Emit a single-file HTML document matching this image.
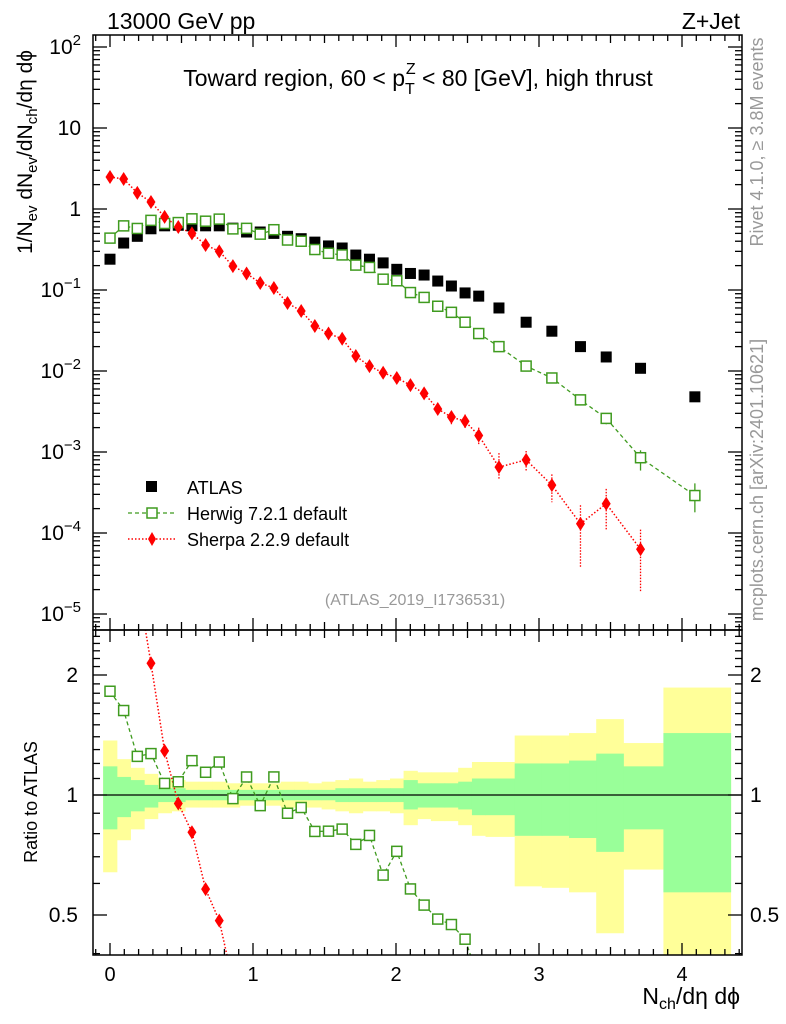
<!DOCTYPE html>
<html style="margin:0;width:786px;height:1024px;overflow:hidden;"><head><meta charset="utf-8"><style>
body{margin:0;background:#fff;overflow:hidden;width:786px;height:1024px;}
svg{display:block;font-family:"Liberation Sans",sans-serif;}
</style></head><body>
<svg id="c" width="786" height="1024" viewBox="0 0 786 1024">
<defs>
<clipPath id="clipMain"><rect x="93" y="35" width="649" height="595"/></clipPath>
<clipPath id="clipRatio"><rect x="93" y="630" width="649" height="325"/></clipPath>
</defs>
<g id="bands" clip-path="url(#clipRatio)"></g>
<g id="marks"></g>
<rect x="93" y="35" width="649" height="595" fill="none" stroke="#000" stroke-width="1.5"/>
<rect x="93" y="630" width="649" height="325" fill="none" stroke="#000" stroke-width="1.5"/>
<g id="ticks"></g>
<text x="107" y="29" font-size="23">13000 GeV pp</text>
<text x="740" y="29" font-size="23" text-anchor="end">Z+Jet</text>
<text x="418" y="86" font-size="23" text-anchor="middle">Toward region, 60 &lt; p<tspan font-size="16" dy="8">T</tspan><tspan font-size="16" dx="-9" dy="-20">Z</tspan><tspan dy="12"> &lt; 80 [GeV], high thrust</tspan></text>
<text x="415" y="605" font-size="16" fill="#999" text-anchor="middle">(ATLAS_2019_I1736531)</text>
<text transform="translate(763,142) rotate(-90)" font-size="18" fill="#999" text-anchor="middle">Rivet 4.1.0, ≥ 3.8M events</text>
<text transform="translate(763,480) rotate(-90)" font-size="18" fill="#999" text-anchor="middle">mcplots.cern.ch [arXiv:2401.10621]</text>
<text transform="translate(32,152) rotate(-90)" font-size="21" text-anchor="middle">1/N<tspan font-size="15" dy="5">ev</tspan><tspan dy="-5"> dN</tspan><tspan font-size="15" dy="5">ev</tspan><tspan dy="-5">/dN</tspan><tspan font-size="15" dy="5">ch</tspan><tspan dy="-5">/dη dϕ</tspan></text>
<text transform="translate(37,802) rotate(-90)" font-size="18" text-anchor="middle">Ratio to ATLAS</text>
<text x="740" y="1004" font-size="23" text-anchor="end">N<tspan font-size="16" dy="5">ch</tspan><tspan dy="-5">/dη dϕ</tspan></text>
<g>
<rect x="146" y="481" width="11" height="11" fill="#000"/>
<text x="187" y="494" font-size="18">ATLAS</text>
<line x1="128" y1="513" x2="176" y2="513" stroke="#3f9b1f" stroke-width="1.3" stroke-dasharray="4,3"/>
<rect x="147" y="508" width="10" height="10" fill="#fff" stroke="#3f9b1f" stroke-width="1.5"/>
<text x="187" y="520" font-size="18">Herwig 7.2.1 default</text>
<line x1="128" y1="539" x2="176" y2="539" stroke="#f00" stroke-width="1.5" stroke-dasharray="1.5,2"/>
<polygon points="152,532 156,539 152,546 148,539" fill="#f00"/>
<text x="187" y="546" font-size="18">Sherpa 2.2.9 default</text>
</g>
</svg>
<script>
const xs = [0,0.0955,0.191,0.2865,0.382,0.4775,0.573,0.6685,0.764,0.8595,0.955,1.0505,1.146,1.2415,1.337,1.4325,1.528,1.6235,1.719,1.8145,1.91,2.0055,2.101,2.1965,2.292,2.3875,2.483,2.5785,2.72,2.91,3.09,3.29,3.47,3.71,4.09];
const atlas = [0.24,0.38,0.46,0.57,0.62,0.63,0.62,0.62,0.62,0.58,0.52,0.52,0.50,0.46,0.43,0.39,0.35,0.33,0.27,0.24,0.216,0.18,0.16,0.153,0.129,0.112,0.092,0.084,0.060,0.040,0.031,0.020,0.0149,0.0108,0.0048];
const herwig = [0.437,0.619,0.575,0.724,0.663,0.680,0.756,0.707,0.750,0.568,0.577,0.489,0.555,0.414,0.400,0.316,0.284,0.271,0.203,0.190,0.136,0.130,0.093,0.081,0.063,0.053,0.040,0.029,0.020,0.0115,0.0082,0.0044,0.0026,0.00085,0.00029];
const sherpa = [2.48,2.35,1.58,1.22,0.80,0.60,0.50,0.36,0.30,0.197,0.16,0.122,0.106,0.069,0.055,0.036,0.029,0.025,0.0153,0.0115,0.0095,0.0082,0.0067,0.0053,0.0034,0.0027,0.0024,0.0016,0.00065,0.00080,0.00039,0.00013,0.00023,0.000063];
const sherpaHi = [null,null,null,null,null,null,null,null,null,null,null,null,null,null,null,null,null,null,null,null,null,null,null,null,0.0040,0.0032,0.0029,0.0020,0.00097,0.00103,0.00053,0.00022,0.00035,0.00011];
const sherpaLo = [null,null,null,null,null,null,null,null,null,null,null,null,null,null,null,null,null,null,null,null,null,null,null,null,0.0029,0.0022,0.0019,0.0012,0.00046,0.00057,0.00024,0.000038,0.00011,0.000019];
const herwigHi = [null,null,null,null,null,null,null,null,null,null,null,null,null,null,null,null,null,null,null,null,null,null,null,null,null,null,null,null,null,null,null,null,0.0030,0.00105,0.00041];
const herwigLo = [null,null,null,null,null,null,null,null,null,null,null,null,null,null,null,null,null,null,null,null,null,null,null,null,null,null,null,null,null,null,null,null,0.0022,0.00059,0.00018];
const binEdges = [-0.048,0.048,0.143,0.239,0.334,0.430,0.525,0.621,0.716,0.812,0.907,1.003,1.098,1.194,1.289,1.385,1.480,1.576,1.671,1.767,1.862,1.958,2.053,2.149,2.244,2.340,2.435,2.531,2.626,2.83,3.02,3.21,3.40,3.59,3.87,4.34];
const yelHi = [1.37,1.23,1.17,1.13,1.10,1.09,1.08,1.08,1.08,1.07,1.07,1.07,1.07,1.08,1.08,1.07,1.08,1.09,1.10,1.08,1.09,1.10,1.15,1.14,1.14,1.14,1.17,1.21,1.21,1.41,1.41,1.43,1.55,1.35,1.86];
const yelLo = [0.64,0.77,0.82,0.87,0.90,0.91,0.93,0.93,0.93,0.93,0.94,0.94,0.94,0.93,0.93,0.93,0.92,0.91,0.90,0.91,0.91,0.90,0.84,0.87,0.86,0.86,0.84,0.79,0.785,0.59,0.585,0.57,0.45,0.65,0.30];
const grnHi = [1.18,1.11,1.09,1.06,1.04,1.04,1.03,1.03,1.03,1.03,1.03,1.03,1.03,1.03,1.03,1.03,1.03,1.04,1.04,1.04,1.04,1.04,1.09,1.07,1.07,1.07,1.08,1.10,1.10,1.20,1.20,1.22,1.27,1.18,1.43];
const grnLo = [0.82,0.88,0.91,0.93,0.96,0.96,0.97,0.97,0.97,0.97,0.97,0.97,0.97,0.97,0.97,0.97,0.97,0.96,0.96,0.96,0.96,0.96,0.92,0.93,0.93,0.93,0.92,0.89,0.89,0.79,0.79,0.78,0.72,0.82,0.57];
const xTickLabels = ["0","1","2","3","4"];
const yTickExps = ["\u22125","\u22124","\u22123","\u22122","\u22121","0","1","2"];
const ratioTickLabels = ["0.5","1","2"];

const NS="http://www.w3.org/2000/svg";
const X = v => 110 + v*143;
const Y = v => 209 - 81*Math.log10(v);
const R = v => 795 - 120*Math.log2(v);
function mk(parent, tag, attrs){const e=document.createElementNS(NS,tag);for(const k in attrs)e.setAttribute(k,attrs[k]);parent.appendChild(e);return e;}
const bands=document.getElementById('bands'), marks=document.getElementById('marks'), ticks=document.getElementById('ticks');

for(let i=0;i<yelHi.length;i++){
  const x0=X(binEdges[i]), x1=X(binEdges[i+1]);
  const y=mk(bands,'rect',{x:x0,y:R(yelHi[i]),width:x1-x0+0.5,height:R(yelLo[i])-R(yelHi[i]),fill:'#ffff99'});
  
  
}
for(let i=0;i<grnHi.length;i++){
  const x0=X(binEdges[i]), x1=X(binEdges[i+1]);
  const g=mk(bands,'rect',{x:x0,y:R(grnHi[i]),width:x1-x0+0.5,height:R(grnLo[i])-R(grnHi[i]),fill:'#99ff99'});
  
  
}
const one=mk(marks,'line',{x1:93,x2:742,y1:R(1),y2:R(1),stroke:'#000','stroke-width':1.3});



const gm=mk(marks,'g',{'clip-path':'url(#clipMain)'});
const gr=mk(marks,'g',{'clip-path':'url(#clipRatio)'});

const hl=mk(gm,'polyline',{points:herwig.map((v,i)=>X(xs[i])+','+Y(v)).join(' '),fill:'none',stroke:'#3f9b1f','stroke-width':1.3,'stroke-dasharray':'4,3'});


const sl=mk(gm,'polyline',{points:sherpa.map((v,i)=>X(xs[i])+','+Y(v)).join(' '),fill:'none',stroke:'#f00','stroke-width':1.5,'stroke-dasharray':'1.5,2'});


for(let i=0;i<sherpa.length;i++){
  if(sherpaHi[i]){const e=mk(gm,'line',{x1:X(xs[i]),x2:X(xs[i]),y1:Y(sherpaHi[i]),y2:Y(sherpaLo[i]),stroke:'#f00','stroke-width':1.3,'stroke-dasharray':'1.5,1.5'});
    
    }
}
for(let i=0;i<herwig.length;i++){
  if(herwigHi[i]){const e=mk(gm,'line',{x1:X(xs[i]),x2:X(xs[i]),y1:Y(herwigHi[i]),y2:Y(herwigLo[i]),stroke:'#3f9b1f','stroke-width':1.3});
    
    }
}
for(let i=0;i<atlas.length;i++){
  const e=mk(gm,'rect',{x:X(xs[i])-5.5,y:Y(atlas[i])-5.5,width:11,height:11,fill:'#000'});
  
  
}
for(let i=0;i<herwig.length;i++){
  const e=mk(gm,'rect',{x:X(xs[i])-5,y:Y(herwig[i])-5,width:10,height:10,fill:'#fff',stroke:'#3f9b1f','stroke-width':1.5});
  
  
}
for(let i=0;i<sherpa.length;i++){
  const x=X(xs[i]),y=Y(sherpa[i]);
  const e=mk(gm,'polygon',{points:`${x},${y-7} ${x+4.5},${y} ${x},${y+7} ${x-4.5},${y}`,fill:'#f00'});
  
  
}
const hr=mk(gr,'polyline',{points:herwig.map((v,i)=>X(xs[i])+','+R(v/atlas[i])).join(' '),fill:'none',stroke:'#3f9b1f','stroke-width':1.3,'stroke-dasharray':'4,3'});


const sr=mk(gr,'polyline',{points:sherpa.map((v,i)=>X(xs[i])+','+R(v/atlas[i])).join(' '),fill:'none',stroke:'#f00','stroke-width':1.5,'stroke-dasharray':'1.5,2'});


for(let i=0;i<herwig.length;i++){
  const e=mk(gr,'rect',{x:X(xs[i])-5,y:R(herwig[i]/atlas[i])-5,width:10,height:10,fill:'#fff',stroke:'#3f9b1f','stroke-width':1.5});
  
  
}
for(let i=0;i<sherpa.length;i++){
  const x=X(xs[i]),y=R(sherpa[i]/atlas[i]);
  const e=mk(gr,'polygon',{points:`${x},${y-7} ${x+4.5},${y} ${x},${y+7} ${x-4.5},${y}`,fill:'#f00'});
  
  
}
function tl(x1,y1,x2,y2){mk(ticks,'line',{x1,y1,x2,y2,stroke:'#000','stroke-width':1.3});}
for(let k=-1;k<=44;k++){
  const v=k/10,x=X(v); if(x<94||x>741)continue;
  const L=(k%10===0)?12:(k%5===0?8:6);
  tl(x,630,x,630-L);tl(x,35,x,35+L);tl(x,955,x,955-L);tl(x,630,x,630+L);
}
xTickLabels.forEach(s=>{const t=mk(ticks,'text',{x:X(+s),y:981,'font-size':20,'text-anchor':'middle'});t.textContent=s;
  
  });
for(let d=-6;d<=2;d++){
  for(let m=1;m<10;m++){const v=m*Math.pow(10,d),y=Y(v);if(y<36||y>629)continue;
    const L=m===1?14:7; tl(93,y,93+L,y);tl(742,y,742-L,y);}
}
yTickExps.forEach((s,i)=>{
  const y=Y(Math.pow(10,i-5))+7;
  const t=mk(ticks,'text',{x:81,y:y,'font-size':21,'text-anchor':'end'});
  
  
  if(s==="0"){t.textContent="1";}
  else if(s==="1"){t.textContent="10";}
  else{t.textContent="10";const sp=mk(t,'tspan',{'font-size':15,dy:-9});sp.textContent=s;}
});
const rminor=[0.4,0.5,0.6,0.7,0.8,0.9,1,1.1,1.2,1.3,1.4,1.5,1.6,1.7,1.8,1.9,2,2.1,2.2,2.3,2.4,2.5];
rminor.forEach(v=>{const y=R(v);const L=(v===0.5||v===1||v===2)?14:7;tl(93,y,93+L,y);tl(742,y,742-L,y);});
ratioTickLabels.forEach(s=>{
  const t=mk(ticks,'text',{x:78,y:R(+s)+7,'font-size':21,'text-anchor':'end'});t.textContent=s;
  
  
  const t2=mk(ticks,'text',{x:750,y:R(+s)+7,'font-size':21});t2.textContent=s;
  
  
});
</script>
</body></html>
